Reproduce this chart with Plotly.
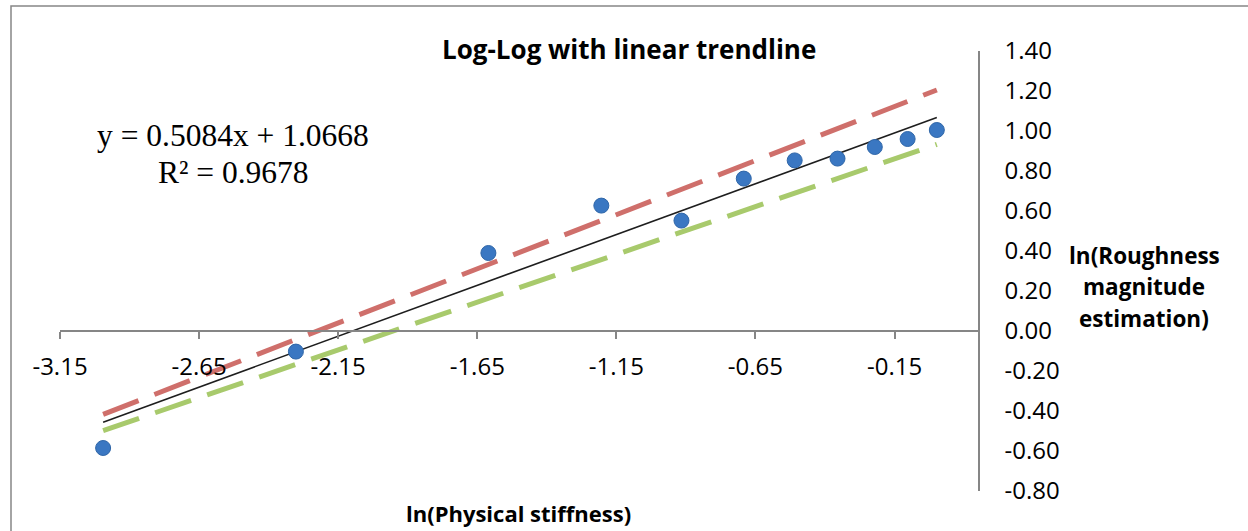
import plotly.graph_objects as go

# ---- data ----
ln_stiffness = [-2.995, -2.302, -1.610, -1.204, -0.916, -0.692, -0.509, -0.355, -0.221, -0.103, 0.002]
ln_roughness = [-0.585, -0.103, 0.390, 0.627, 0.552, 0.762, 0.853, 0.862, 0.920, 0.960, 1.005]

trend_slope = 0.5084
trend_intercept = 1.0668
r_squared = 0.9678

# dashed reference lines: values at the first and last x of the data
upper_line_y = [-0.417, 1.205]
lower_line_y = [-0.498, 0.933]

x_ticks = [-3.15, -2.65, -2.15, -1.65, -1.15, -0.65, -0.15]
y_ticks = [1.40, 1.20, 1.00, 0.80, 0.60, 0.40, 0.20, 0.00, -0.20, -0.40, -0.60, -0.80]

x_range = [-3.15, 0.15]
y_range = [-0.80, 1.40]

# ---- figure ----
xs_end = [ln_stiffness[0], ln_stiffness[-1]]
trend_y = [trend_slope * v + trend_intercept for v in xs_end]

FONT = "Open Sans"
fig = go.Figure()
fig.add_trace(go.Scatter(x=xs_end, y=upper_line_y, mode="lines",
                         line=dict(color="#cf6f6b", width=5, dash="38px,17px"),
                         hoverinfo="skip"))
fig.add_trace(go.Scatter(x=xs_end, y=lower_line_y, mode="lines",
                         line=dict(color="#a8ca6c", width=5, dash="38px,17px"),
                         hoverinfo="skip"))
fig.add_trace(go.Scatter(x=xs_end, y=trend_y, mode="lines",
                         line=dict(color="#1e1e1e", width=1.6)))
fig.add_trace(go.Scatter(x=ln_stiffness, y=ln_roughness, mode="markers",
                         marker=dict(size=15, color="#3a77c2",
                                     line=dict(color="#2f66a8", width=1))))

yfrac = (0 - y_range[0]) / (y_range[1] - y_range[0])

fig.update_layout(
    width=1248, height=531,
    margin=dict(l=60, r=270, t=51, b=40),
    paper_bgcolor="white", plot_bgcolor="white",
    showlegend=False,
    font=dict(family=FONT, color="black"),
    xaxis=dict(range=x_range, tickvals=x_ticks, ticktext=[f"{v:.2f}" for v in x_ticks],
               anchor="free", position=yfrac, showgrid=False, zeroline=False,
               showline=True, linecolor="#868686", linewidth=1.5,
               ticks="outside", ticklen=7, tickcolor="#868686", tickwidth=1.5,
               tickfont=dict(size=24, family=FONT), ticklabelstandoff=7),
    yaxis=dict(range=y_range, tickvals=y_ticks, ticktext=[f"{v:.2f}" for v in y_ticks],
               side="right", showgrid=False, zeroline=False,
               showline=True, linecolor="#868686", linewidth=1.5, ticks="",
               tickfont=dict(size=24, family=FONT), ticklabelstandoff=20),
)

def px_x(p):
    return (p - 60) / 918.0

def px_y(p):
    return (491 - p) / 440.0

ann = []
ann.append(dict(text="<b>Log-Log with linear trendline</b>", x=px_x(629), y=px_y(49),
                font=dict(size=26, family=FONT)))
ann.append(dict(text=f"y = {trend_slope:.4f}x + {trend_intercept:.4f}", x=px_x(233), y=px_y(135),
                font=dict(size=31.5, family="Liberation Serif")))
ann.append(dict(text=f"R² = {r_squared:.4f}", x=px_x(233), y=px_y(172),
                font=dict(size=31.5, family="Liberation Serif")))
for txt, yy in [("ln(Roughness", 255), ("magnitude", 286), ("estimation)", 318)]:
    ann.append(dict(text=f"<b>{txt}</b>", x=px_x(1144), y=px_y(yy), font=dict(size=22.5, family=FONT)))
ann.append(dict(text="<b>ln(Physical stiffness)</b>", x=px_x(518), y=px_y(513),
                font=dict(size=22, family=FONT)))
for a in ann:
    a.update(xref="paper", yref="paper", showarrow=False, xanchor="center", yanchor="middle")
fig.update_layout(annotations=ann)

fig.add_shape(type="rect", xref="paper", yref="paper",
              x0=px_x(11), y0=px_y(560), x1=px_x(1300), y1=px_y(6),
              line=dict(color="#868686", width=1.5), fillcolor="rgba(0,0,0,0)", layer="below")

fig.write_html("out.html", config={"displayModeBar": False},
               post_script="document.body.style.margin='0';document.body.style.overflow='hidden';")
